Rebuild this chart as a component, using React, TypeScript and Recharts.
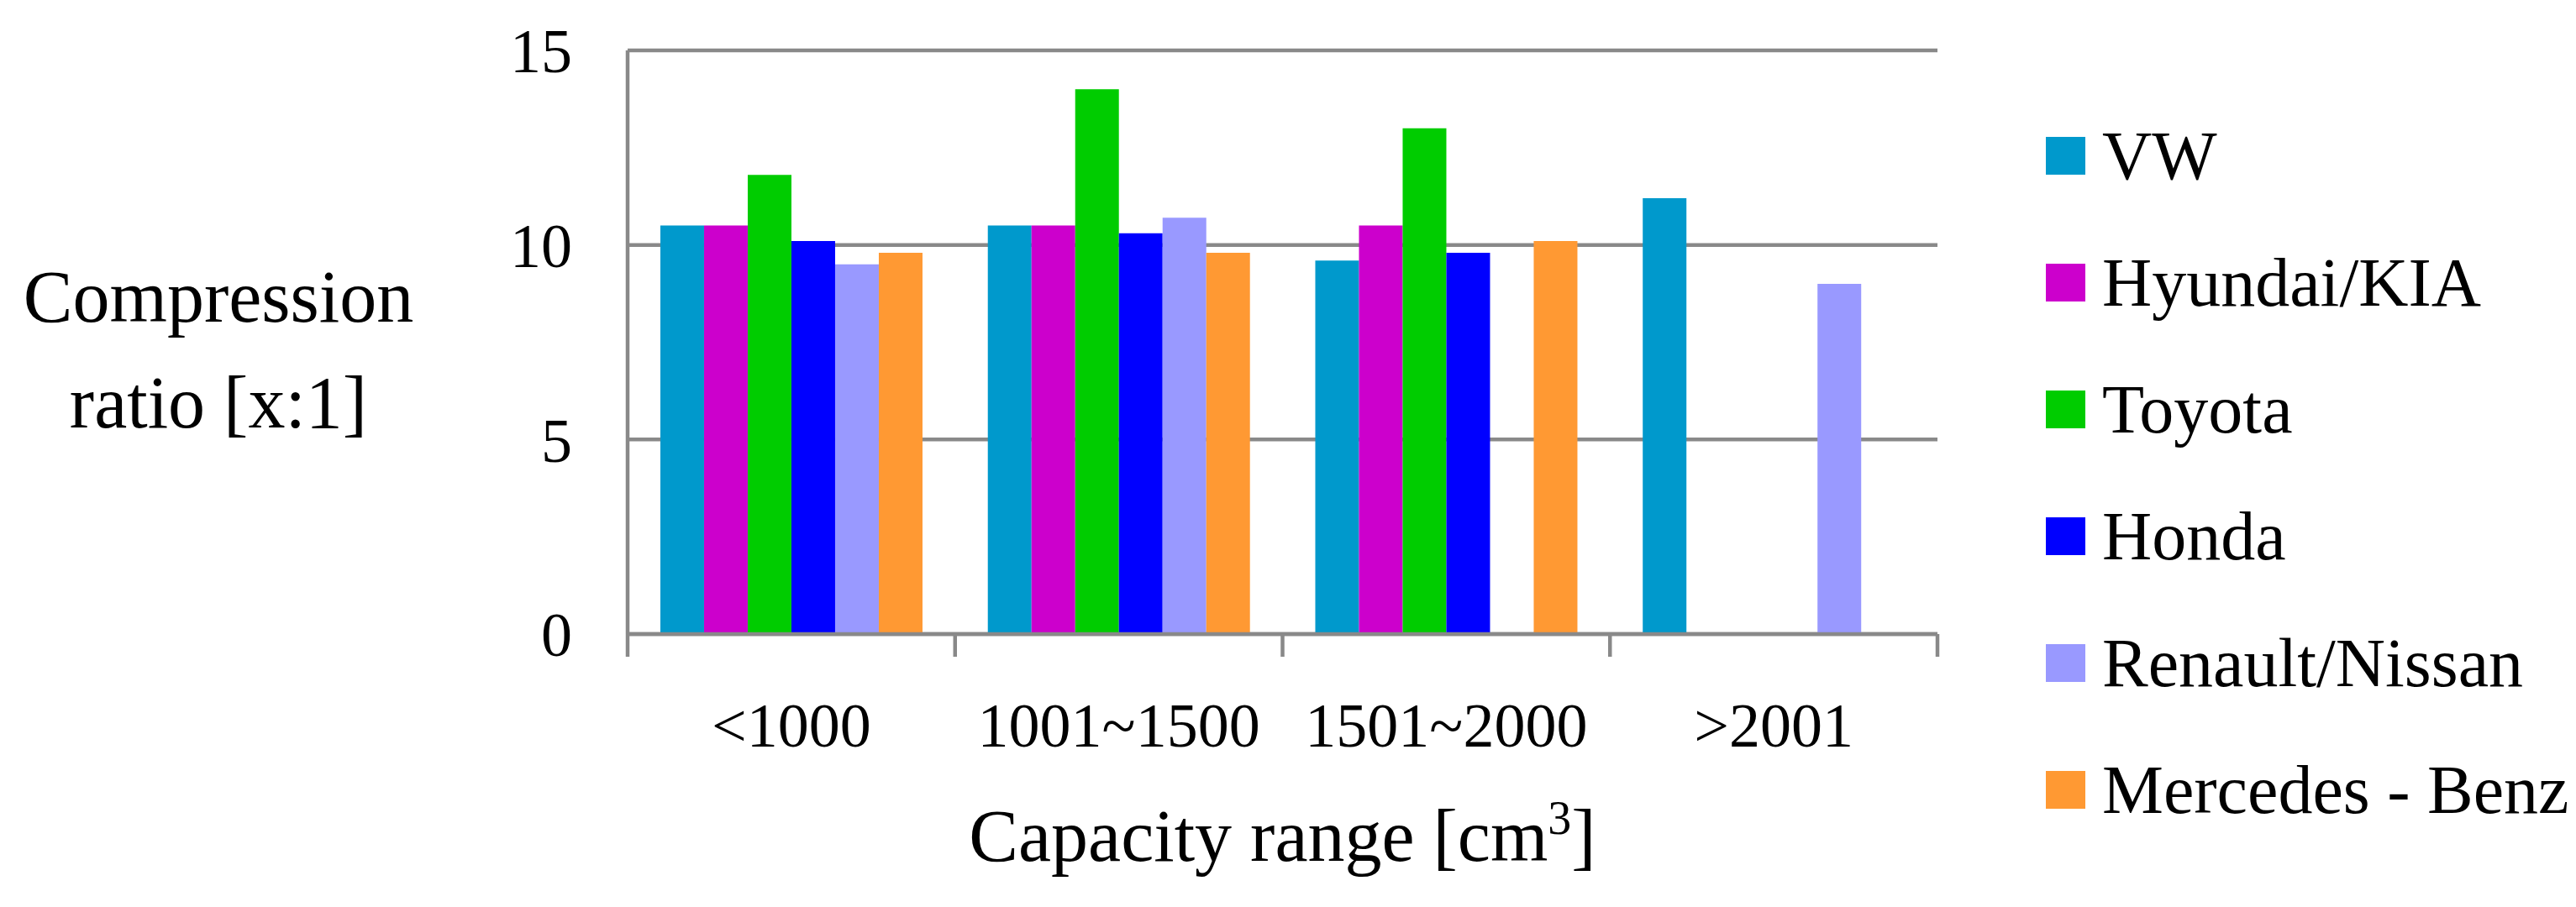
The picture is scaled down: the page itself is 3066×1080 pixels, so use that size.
import React from 'react';
import { BarChart, Bar, XAxis, YAxis, CartesianGrid } from 'recharts';

const categories = ['<1000', '1001~1500', '1501~2000', '>2001'];
const vw = [10.5, 10.5, 9.6, 11.2];
const hyundai = [10.5, 10.5, 10.5, null];
const toyota = [11.8, 14, 13, null];
const honda = [10.1, 10.3, 9.8, null];
const renault = [9.5, 10.7, null, 9.0];
const mercedes = [9.8, 9.8, 10.1, null];
const yTicks = [0, 5, 10, 15];

const series = [
  { key: 'vw', name: 'VW', values: vw, color: '#0099CC' },
  { key: 'hyundai', name: 'Hyundai/KIA', values: hyundai, color: '#CC00CC' },
  { key: 'toyota', name: 'Toyota', values: toyota, color: '#00CC00' },
  { key: 'honda', name: 'Honda', values: honda, color: '#0000FF' },
  { key: 'renault', name: 'Renault/Nissan', values: renault, color: '#9999FF' },
  { key: 'mercedes', name: 'Mercedes - Benz', values: mercedes, color: '#FF9933' },
];

const data = categories.map((cat, i) => {
  const row: any = { cat };
  series.forEach((s) => {
    row[s.key] = s.values[i];
  });
  return row;
});

const GRAY = '#898989';
const FONT = '"Liberation Serif", "Times New Roman", serif';
const TICK_LEN = 27;
const LABEL_GAP = 81;

const XTick = (props: any) => {
  const { x, y, payload, index, visibleTicksCount } = props;
  const half = payload && payload.offset ? payload.offset : 0;
  const axisY = y - LABEL_GAP;
  const isLast = index === visibleTicksCount - 1;
  return (
    <g>
      <line x1={x - half} x2={x - half} y1={axisY} y2={axisY + TICK_LEN} stroke={GRAY} strokeWidth={4.5} />
      {isLast && (
        <line x1={x + half} x2={x + half} y1={axisY} y2={axisY + TICK_LEN} stroke={GRAY} strokeWidth={4.5} />
      )}
      <text x={x} y={y} dy="0.71em" textAnchor="middle" fontFamily={FONT} fontSize={74} fill="#000">
        {payload.value}
      </text>
    </g>
  );
};

const YTitle = (props: any) => {
  const vb = props.viewBox || {};
  const cx = 260;
  const cy = vb.y + vb.height / 2;
  return (
    <text fontFamily={FONT} fontSize={88} fill="#000" textAnchor="middle">
      <tspan x={cx} y={cy - 25}>Compression</tspan>
      <tspan x={cx} y={cy + 101}>ratio [x:1]</tspan>
    </text>
  );
};

const XTitle = (props: any) => {
  const vb = props.viewBox || {};
  const cx = vb.x + vb.width / 2;
  return (
    <text x={cx} y={vb.y + 270} fontFamily={FONT} fontSize={88} fill="#000" textAnchor="middle">
      Capacity range [cm
      <tspan dy={-32} fontSize={56}>3</tspan>
      <tspan dy={32}>]</tspan>
    </text>
  );
};

export default function App() {
  return (
    <div style={{ position: 'absolute', left: 0, top: 0, width: 3066, height: 1080, background: '#fff' }}>
      <BarChart
        width={3066}
        height={1080}
        data={data}
        margin={{ top: 60, right: 760, bottom: 0, left: 0 }}
        barCategoryGap="10%"
        barGap={0}
      >
        <CartesianGrid vertical={false} stroke={GRAY} strokeWidth={4.5} />
        <XAxis
          dataKey="cat"
          height={325}
          axisLine={{ stroke: GRAY, strokeWidth: 4.5 }}
          tickLine={false}
          tickSize={0}
          tickMargin={LABEL_GAP}
          interval={0}
          tick={XTick}
          label={{ content: XTitle }}
        />
        <YAxis
          width={747}
          domain={[0, 15]}
          ticks={yTicks}
          axisLine={{ stroke: GRAY, strokeWidth: 4.5 }}
          tickLine={false}
          tickSize={0}
          tickMargin={66}
          tick={{ fontFamily: FONT, fontSize: 74, fill: '#000' }}
          label={{ content: YTitle }}
        />
        {series.map((s) => (
          <Bar key={s.key} dataKey={s.key} name={s.name} fill={s.color} isAnimationActive={false} />
        ))}
      </BarChart>
      <div style={{ position: 'absolute', left: 2435, top: 110, fontFamily: FONT }}>
        {series.map((s) => (
          <div key={s.key} style={{ height: 151, display: 'flex', alignItems: 'center' }}>
            <div style={{ width: 47, height: 45, background: s.color, marginRight: 20 }} />
            <span style={{ fontSize: 82, lineHeight: 1, color: '#000', whiteSpace: 'nowrap' }}>{s.name}</span>
          </div>
        ))}
      </div>
    </div>
  );
}
